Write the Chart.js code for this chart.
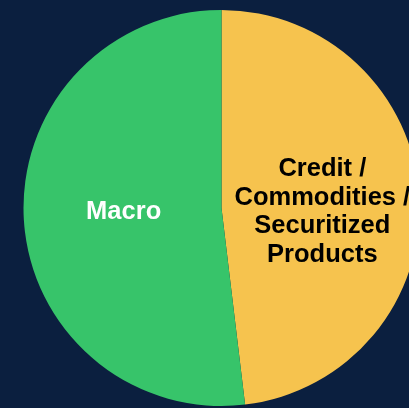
<!DOCTYPE html>
<html>
<head>
<meta charset="utf-8">
<script src="https://cdn.jsdelivr.net/npm/chart.js@4/dist/chart.umd.min.js"></script>
<style>
  html, body { margin: 0; padding: 0; background: #0b1f3f; overflow: hidden; }
  #wrap { width: 409px; height: 408px; overflow: hidden; }
</style>
</head>
<body>
<div id="wrap"><canvas id="c" width="443" height="408"></canvas></div>
<script>
// chart data
const labels = [['Credit /', 'Commodities /', 'Securitized', 'Products'], ['Macro']]
const values = [48.1, 51.9]
const colors = ['#f6c34e', '#37c46a']
const textColors = ['#000000', '#ffffff']
const labelShift = [[2, 10], [1, -2]]

// draw the names inside the slices
const sliceLabels = {
  id: 'sliceLabels',
  afterDatasetsDraw(chart) {
    const ctx = chart.ctx
    const arcs = chart.getDatasetMeta(0).data
    ctx.save()
    ctx.font = 'bold 25.5px "Liberation Sans", Arial, sans-serif'
    ctx.textAlign = 'center'
    ctx.textBaseline = 'middle'
    const lh = 28.6
    for (let i = 0; i < arcs.length; i++) {
      const p = arcs[i].tooltipPosition()
      const lines = labels[i]
      const x = p.x + labelShift[i][0]
      const y0 = p.y + labelShift[i][1] - (lines.length - 1) * lh / 2
      ctx.fillStyle = textColors[i]
      for (let k = 0; k < lines.length; k++) {
        ctx.fillText(lines[k], x, y0 + k * lh)
      }
    }
    ctx.restore()
  }
}

new Chart(document.getElementById('c'), {
  type: 'pie',
  data: {
    labels: labels.map(l => l.join(' ')),
    datasets: [{
      data: values,
      backgroundColor: colors,
      borderWidth: 0
    }]
  },
  options: {
    responsive: false,
    animation: false,
    devicePixelRatio: 1,
    layout: { padding: { left: 23, right: 23, top: 10, bottom: 2 } },
    plugins: {
      legend: { display: false },
      tooltip: { enabled: false }
    }
  },
  plugins: [sliceLabels]
})
</script>
</body>
</html>
